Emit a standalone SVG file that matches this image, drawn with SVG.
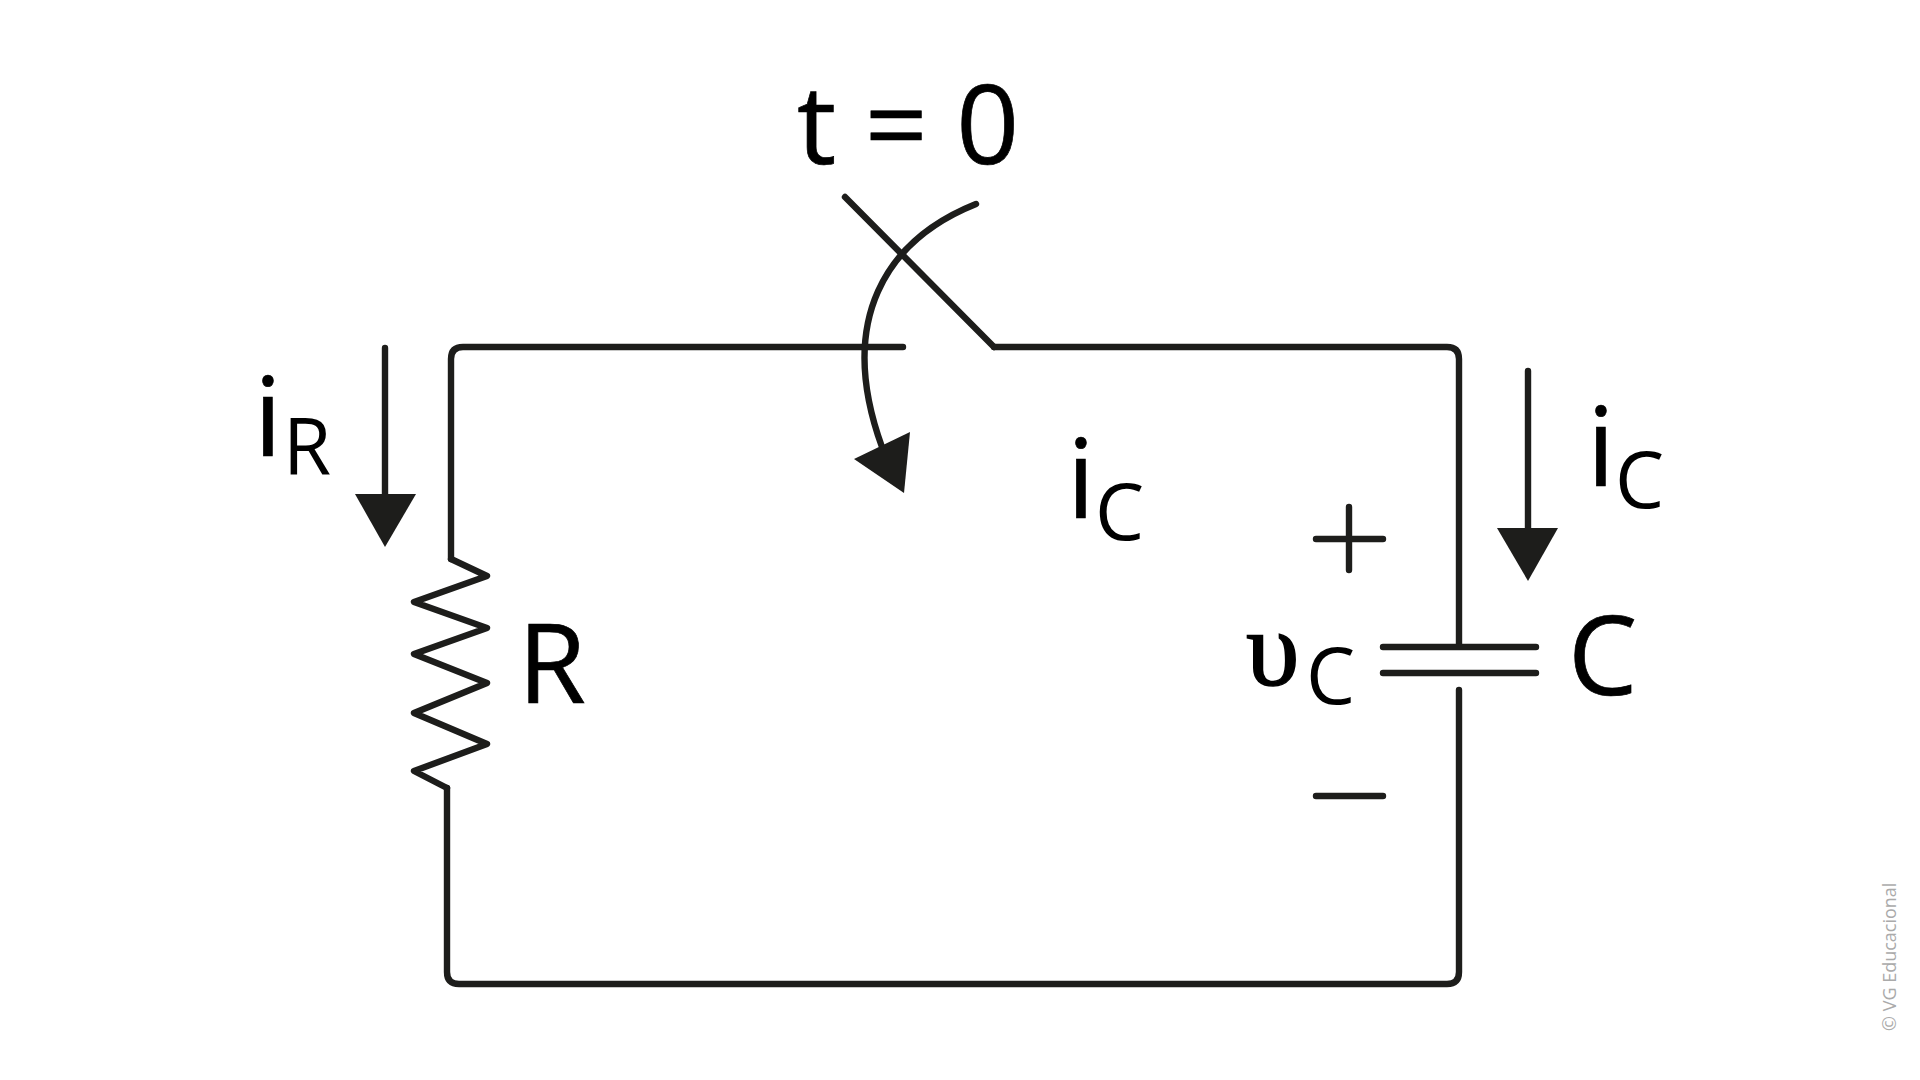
<svg xmlns="http://www.w3.org/2000/svg" width="1920" height="1080" viewBox="0 0 1920 1080">
<style>
.w{fill:none;stroke:#1d1d1b;stroke-width:6.4;stroke-linecap:round;stroke-linejoin:round}
.h{fill:#1d1d1b;stroke:none}
text{font-family:"Open Sans","Noto Sans",sans-serif;fill:#000}
.b{font-size:110px;stroke:#000;stroke-width:.7px}
.s{font-size:78px}
</style>
<rect width="1920" height="1080" fill="#fff"/>
<g id="connectors">
<path class="w" d="M903 347H463Q451 347 451 359V559"/>
<path class="w" d="M447 788V972Q447 984 459 984H1447Q1459 984 1459 972V690"/>
<path class="w" d="M1459 646V359Q1459 347 1447 347H994"/>
</g>
<g id="resistor">
<path class="w" d="M451 559L487 576L414 602L487 628L414 654L487 683L414 713L487 744L414 771L447 788"/>
<text class="b" x="518" y="703">R</text>
</g>
<g id="switch">
<path class="w" d="M845 197L994 347"/>
<path class="w" d="M976 204C886 240 836 320 882 447"/>
<path class="h" d="M854 459L910 432L904 493Z"/>
<text class="b" x="797" y="164">t = 0</text>
</g>
<g id="capacitor">
<path class="w" d="M1383 647H1536M1383 673H1536"/>
<text class="b" x="1568" y="695">C</text>
</g>
<g id="ir-arrow">
<path class="w" d="M385 348V498"/>
<path class="h" d="M355 494H416L385 547Z"/>
<text class="b" x="254" y="456">i</text><text class="s" x="283" y="475">R</text>
</g>
<g id="ic-arrow">
<path class="w" d="M1528 371V535"/>
<path class="h" d="M1497 528H1558L1528 581Z"/>
<text class="b" x="1587" y="486">i</text><text class="s" x="1615" y="508">C</text>
</g>
<g id="ic-label">
<text class="b" x="1067" y="518">i</text><text class="s" x="1095" y="540">C</text>
</g>
<g id="vc">
<path class="w" d="M1316 539H1383M1349 507V570M1316 796H1383"/>
<text x="1246" y="685" font-size="108" stroke="#000" stroke-width="1.5" style="font-family:'Liberation Serif',serif">υ</text><text class="s" x="1306" y="704">C</text>
</g>
<g id="credit">
<text transform="translate(1896 1031) rotate(-90)" font-size="18" style="fill:#aaa">© VG Educacional</text>
</g>
</svg>
